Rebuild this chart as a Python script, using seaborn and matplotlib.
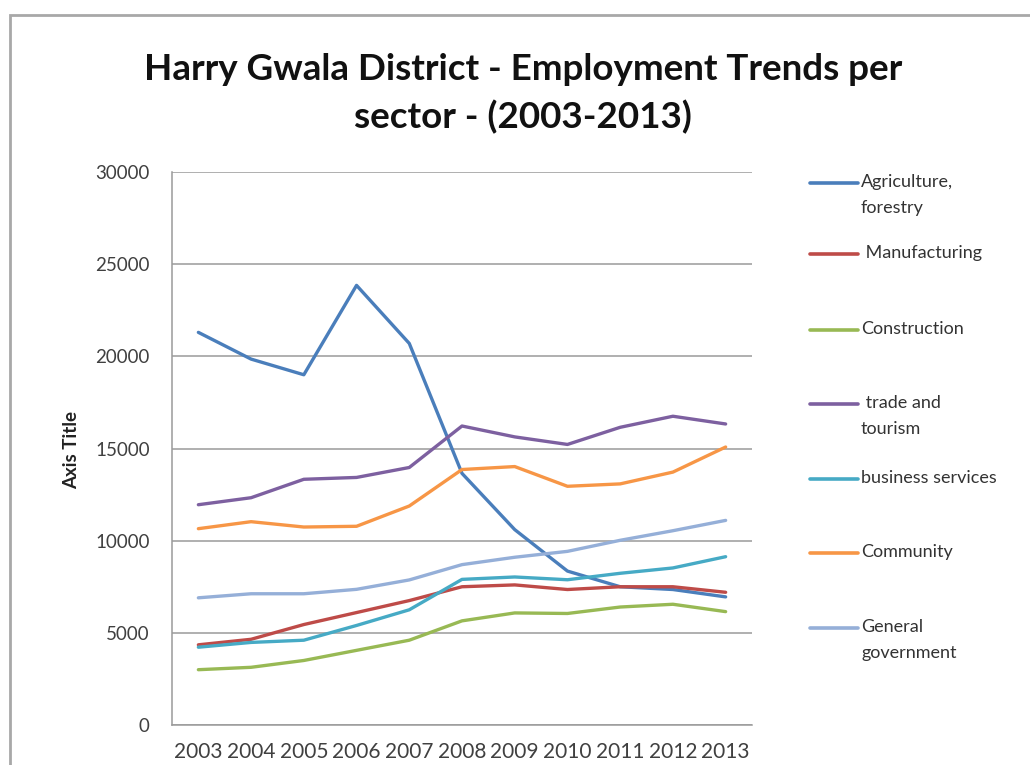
import matplotlib
matplotlib.use("Agg")
import matplotlib.pyplot as plt
from matplotlib.lines import Line2D
from matplotlib.patches import Rectangle
import seaborn as sns
import pandas as pd

years = ["2003", "2004", "2005", "2006", "2007", "2008", "2009", "2010", "2011", "2012", "2013"]

agriculture = [21300, 19850, 19000, 23850, 20700, 13650, 10600, 8350, 7500, 7350, 6950]
manufacturing = [4350, 4650, 5450, 6100, 6750, 7500, 7600, 7350, 7500, 7500, 7200]
construction = [3000, 3130, 3500, 4050, 4600, 5650, 6080, 6050, 6400, 6550, 6150]
trade_tourism = [11950, 12330, 13330, 13430, 13970, 16220, 15630, 15220, 16150, 16750, 16330]
business_services = [4220, 4480, 4600, 5400, 6250, 7900, 8030, 7880, 8230, 8520, 9130]
community = [10650, 11030, 10740, 10780, 11880, 13860, 14020, 12950, 13080, 13720, 15080]
general_government = [6900, 7120, 7120, 7360, 7870, 8700, 9100, 9420, 10020, 10540, 11100]

series_names = ["Agriculture,\nforestry", " Manufacturing", "Construction",
                " trade and\ntourism", "business services", "Community",
                "General\ngovernment"]
series_values = [agriculture, manufacturing, construction, trade_tourism,
                 business_services, community, general_government]
series_colors = ["#4A7EBB", "#BE4B48", "#98B954", "#7D60A0",
                 "#46AAC5", "#F79646", "#95AFD8"]

y_ticks = [0, 5000, 10000, 15000, 20000, 25000, 30000]

rows = []
for name, vals in zip(series_names, series_values):
    for i, (yr, v) in enumerate(zip(years, vals)):
        rows.append({"sector": name, "pos": i, "year": yr, "value": v})
df = pd.DataFrame(rows)

sns.set_theme(style="white")
plt.rcParams["font.family"] = ["Lato", "DejaVu Sans"]

fig = plt.figure(figsize=(10.3, 7.65), dpi=100)
W, H = 1030, 765
ax = fig.add_axes([172 / W, 1 - 725 / H, (752 - 172) / W, (725 - 172) / H])

sns.lineplot(data=df, x="pos", y="value", hue="sector", hue_order=series_names,
             palette=series_colors, linewidth=2.4, legend=False, ax=ax,
             sort=False, estimator=None)

ax.set_xlim(-0.5, len(years) - 0.5)
ax.set_ylim(0, 30000)
ax.set_xticks(range(len(years)))
ax.set_xticklabels(years)
ax.set_yticks(y_ticks)
ax.set_yticklabels([str(t) for t in y_ticks])
ax.yaxis.grid(True, color="#9A9A9A", linewidth=1.1)
ax.xaxis.grid(False)
ax.tick_params(axis="both", length=0, colors="#404040")
ax.tick_params(axis="y", pad=16, labelsize=13.5)
ax.tick_params(axis="x", pad=12, labelsize=15)
for side in ["top", "right"]:
    ax.spines[side].set_visible(False)
for side in ["left", "bottom"]:
    ax.spines[side].set_color("#9A9A9A")
    ax.spines[side].set_linewidth(1.1)
ax.set_xlabel("")
ax.set_ylabel("")

fig.text(72 / W, 1 - 450 / H, "Axis Title", rotation=90, ha="center", va="center",
         fontsize=13.5, fontweight="bold", color="#222222")

fig.text(523 / W, 1 - 70 / H, "Harry Gwala District - Employment Trends per",
         ha="center", va="center", fontsize=26.5, fontweight="bold", color="#111111")
fig.text(523 / W, 1 - 117 / H, "sector - (2003-2013)",
         ha="center", va="center", fontsize=26.5, fontweight="bold", color="#111111")

# legend drawn beside the plot, handle aligned to the first text line
legend_y = [183, 254, 330, 404, 479, 553, 628]
for name, color, ly in zip(series_names, series_colors, legend_y):
    yf = 1 - ly / H
    fig.add_artist(Line2D([810 / W, 858 / W], [yf, yf], color=color, linewidth=2.6))
    fig.text(861 / W, yf + 9 / H, name, ha="left", va="top", fontsize=13,
             color="#333333", linespacing=1.75)

# outer chart frame
fig.add_artist(Rectangle((10 / W, -0.02), 1.05, 1 - 15 / H + 0.02, transform=fig.transFigure,
                         fill=False, edgecolor="#A8A8A8", linewidth=2))

fig.savefig("out.png", dpi=100)
